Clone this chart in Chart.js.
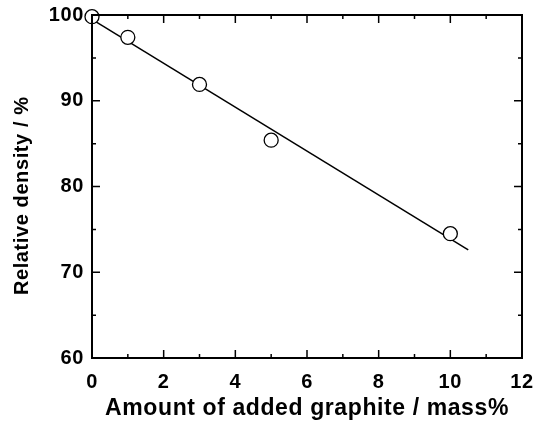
<!DOCTYPE html>
<html>
<head>
<meta charset="utf-8">
<script src="https://cdn.jsdelivr.net/npm/chart.js@4"></script>
<style>
  html, body { margin: 0; padding: 0; background: #fff; }
  #wrap { width: 533px; height: 426px; }
</style>
</head>
<body>
<div id="wrap"><canvas id="chart" width="533" height="426"></canvas></div>
<script>
// measured points
const graphite = [0, 1, 3, 5, 10];
const density = [99.8, 97.4, 91.9, 85.4, 74.5];

// linear fit line ends
const fitX = [0, 10.5];
const fitY = [99.5, 72.6];

const xTicks = [0, 2, 4, 6, 8, 10, 12];
const xMinor = [1, 3, 5, 7, 9, 11];
const yTicks = [60, 70, 80, 90, 100];
const yMinor = [65, 75, 85, 95];

// a bit of letter spacing, like the original figure's font
const spacingPlugin = {
    id: "spacing",
    beforeInit(chart) { chart.ctx.letterSpacing = "0.6px"; },
    beforeLayout(chart) { chart.ctx.letterSpacing = "0.6px"; },
    beforeDraw(chart) { chart.ctx.letterSpacing = "0.6px"; }
};

// frame + inward ticks on all four sides
const framePlugin = {
    id: "frame",
    afterDraw(chart) {
        const { ctx, chartArea: a, scales } = chart;
        ctx.save();
        ctx.strokeStyle = "#000";
        ctx.lineWidth = 2;
        ctx.strokeRect(a.left, a.top, a.right - a.left, a.bottom - a.top);
        ctx.lineWidth = 1.5;
        ctx.beginPath();
        const tickX = (v, len) => {
            const px = scales.x.getPixelForValue(v);
            ctx.moveTo(px, a.bottom); ctx.lineTo(px, a.bottom - len);
            ctx.moveTo(px, a.top); ctx.lineTo(px, a.top + len);
        };
        const tickY = (v, len) => {
            const py = scales.y.getPixelForValue(v);
            ctx.moveTo(a.left, py); ctx.lineTo(a.left + len, py);
            ctx.moveTo(a.right, py); ctx.lineTo(a.right - len, py);
        };
        xTicks.forEach(v => tickX(v, 8));
        xMinor.forEach(v => tickX(v, 4));
        yTicks.forEach(v => tickY(v, 8));
        yMinor.forEach(v => tickY(v, 4));
        ctx.stroke();
        ctx.restore();
    }
};

const font = "'Liberation Sans', Arial, sans-serif";

new Chart(document.getElementById("chart"), {
    type: "scatter",
    data: {
        datasets: [
            {
                label: "fit",
                data: fitX.map((x, i) => ({ x: x, y: fitY[i] })),
                showLine: true,
                borderColor: "#000",
                borderWidth: 1.5,
                pointRadius: 0,
                clip: false,
                order: 2
            },
            {
                label: "density",
                data: graphite.map((x, i) => ({ x: x, y: density[i] })),
                pointRadius: 7,
                pointBackgroundColor: "#fff",
                pointBorderColor: "#000",
                pointBorderWidth: 1.3,
                clip: false,
                order: 1
            }
        ]
    },
    options: {
        responsive: false,
        animation: false,
        layout: { padding: { top: 15, right: 11, left: 6, bottom: 0 } },
        plugins: { legend: { display: false }, tooltip: { enabled: false } },
        scales: {
            x: {
                type: "linear",
                min: 0, max: 12,
                grid: { display: false, drawTicks: false },
                border: { display: false },
                afterBuildTicks: s => { s.ticks = xTicks.map(v => ({ value: v })); },
                afterFit: s => { s.height = 68; s.paddingLeft = 0; s.paddingRight = 0; },
                ticks: {
                    color: "#000",
                    padding: 12,
                    font: { family: font, size: 20, weight: "bold" }
                },
                title: {
                    display: true,
                    text: "Amount of added graphite / mass%",
                    color: "#000",
                    padding: { top: 8 },
                    font: { family: font, size: 23, weight: "bold" }
                }
            },
            y: {
                type: "linear",
                min: 60, max: 100,
                grid: { display: false, drawTicks: false },
                border: { display: false },
                afterBuildTicks: s => { s.ticks = yTicks.map(v => ({ value: v })); },
                afterFit: s => { s.width = 86; s.paddingTop = 0; s.paddingBottom = 0; },
                ticks: {
                    color: "#000",
                    padding: 8,
                    font: { family: font, size: 20, weight: "bold" }
                },
                title: {
                    display: true,
                    // trailing spaces push the rotated title a little lower, as in the original
                    text: "Relative density / %   ",
                    color: "#000",
                    padding: { bottom: 8 },
                    font: { family: font, size: 20, weight: "bold" }
                }
            }
        }
    },
    plugins: [spacingPlugin, framePlugin]
});
</script>
</body>
</html>
